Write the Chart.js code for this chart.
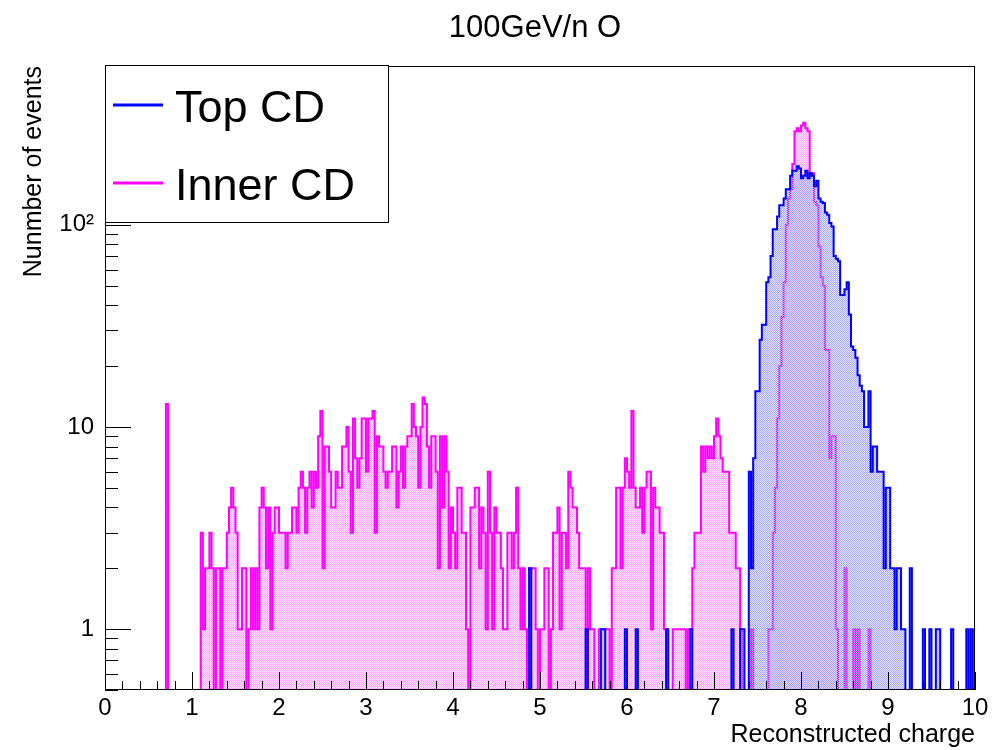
<!DOCTYPE html>
<html>
<head>
<meta charset="utf-8">
<title>100GeV/n O</title>
<script src="https://cdn.jsdelivr.net/npm/chart.js@4.4.1/dist/chart.umd.min.js"></script>
<style>
  html, body { margin: 0; padding: 0; background: #fff; }
  #wrap { width: 998px; height: 750px; position: relative; }
</style>
</head>
<body>
<div id="wrap"><canvas id="mycanvas"></canvas></div>
<script>
// histogram binning: 400 bins of 0.025 between 0 and 10
var xMin = 0;
var xMax = 10;
var binWidth = 0.025;
var yMin = 0.5;
var yMax = 610;

var seriesNames = ["Top CD", "Inner CD"];
var seriesColors = ["#0000ff", "#ff00ff"];
// hatch colours: solid dot, see-through dot
var seriesHatch = [["#a9a9ff", "rgba(0,0,255,0.1)"], ["#ffa9ff", "rgba(255,0,255,0.1)"]];

var xTickLabels = [0, 1, 2, 3, 4, 5, 6, 7, 8, 9, 10];
var yTickValues = [1, 10, 100];
var yTickLabels = ["1", "10", "10\u00b2"];

// counts per bin, 20 bins (0.5 in charge) per row
var topCD = [
  0,0,0,0,0,0,0,0,0,0,0,0,0,0,0,0,0,0,0,0,
  0,0,0,0,0,0,0,0,0,0,0,0,0,0,0,0,0,0,0,0,
  0,0,0,0,0,0,0,0,0,0,0,0,0,0,0,0,0,0,0,0,
  0,0,0,0,0,0,0,0,0,0,0,0,0,0,0,0,0,0,0,0,
  0,0,0,0,0,0,0,0,0,0,0,0,0,0,0,0,0,0,0,0,
  0,0,0,0,0,0,0,0,0,0,0,0,0,0,0,0,0,0,0,0,
  0,0,0,0,0,0,0,0,0,0,0,0,0,0,0,0,0,0,0,0,
  0,0,0,0,0,0,0,0,0,0,0,0,0,0,0,0,0,0,0,0,
  0,0,0,0,0,0,0,0,0,0,0,0,0,0,0,0,0,0,0,0,
  0,0,0,0,0,0,0,0,0,0,0,0,0,0,0,2,0,0,0,0,
  0,0,0,0,0,0,0,0,0,0,0,0,0,0,0,0,0,0,0,0,
  0,1,0,0,0,0,0,0,1,1,0,0,0,0,0,0,0,0,0,1,
  0,0,0,0,1,0,0,0,0,0,0,0,0,0,0,0,0,0,1,0,
  0,0,0,0,0,0,0,0,0,1,0,0,0,0,0,0,0,0,0,0,
  0,0,0,0,0,0,0,0,1,0,0,0,1,1,0,0,6,2,7,15,
  15,27,32,32,52,55,70,95,95,110,125,125,135,150,150,175,185,185,195,190,
  170,175,185,170,180,175,155,165,135,130,128,115,112,102,98,70,68,66,45,45,
  48,52,36,25,24,22,18,16,15,10,10,15,6,8,8,6,6,6,2,5,
  5,2,2,1,2,2,1,1,0,0,2,0,0,0,0,0,1,0,0,1,
  0,0,1,1,0,0,0,0,0,1,0,0,0,0,0,0,1,0,1,0
];

var innerCD = [
  0,0,0,0,0,0,0,0,0,0,0,0,0,0,0,0,0,0,0,0,
  0,0,0,0,0,0,0,0,13,0,0,0,0,0,0,0,0,0,0,0,
  0,0,0,0,3,1,2,2,3,2,0,2,2,0,2,2,3,4,5,4,
  3,1,1,2,2,0,1,2,1,2,1,4,5,4,2,4,1,3,4,4,
  3,3,3,2,3,3,4,4,3,5,6,5,3,5,6,4,6,5,9,12,
  2,8,8,6,4,4,6,5,5,8,8,10,6,3,11,7,5,7,11,11,
  6,11,11,12,3,9,8,8,6,5,6,6,8,8,4,6,8,5,8,9,
  9,13,10,9,5,10,14,13,8,5,9,9,6,2,9,4,9,6,2,4,
  3,2,5,5,3,3,1,0,4,4,5,5,2,4,3,1,6,3,1,4,
  3,3,2,1,1,3,3,2,3,5,2,1,2,1,0,2,2,2,1,0,
  1,1,2,2,0,1,3,3,4,1,3,3,2,6,5,4,4,3,2,2,
  2,0,2,1,1,0,0,1,1,1,1,1,0,2,2,5,5,2,5,7,
  6,5,12,5,4,4,5,3,5,6,6,1,5,4,4,3,3,1,0,0,
  0,1,1,1,1,1,1,0,1,1,2,3,3,3,8,6,8,7,8,7,
  9,11,9,7,6,6,6,3,3,3,2,2,1,0,0,0,0,1,0,0,
  0,0,0,0,0,1,1,3,5,11,20,35,52,100,135,150,200,290,300,290,
  310,320,300,290,175,180,130,125,78,55,50,24,24,7,9,9,1,0,0,0,
  2,0,0,0,1,0,1,0,0,0,0,1,0,0,0,0,0,0,0,0,
  0,0,0,0,0,0,0,0,0,0,0,0,0,0,0,0,0,0,0,0,
  0,0,0,0,0,0,0,0,0,0,0,0,0,0,0,0,0,0,0,0
];

var FONT = "'Liberation Sans', Arial, Helvetica, sans-serif";

// hatched fill on a 2x2 checker: the solid dots of a later histogram
// cover the earlier one where they overlap
function hatchPattern(colors) {
  var c = document.createElement('canvas');
  c.width = 2;
  c.height = 2;
  var g = c.getContext('2d');
  g.fillStyle = colors[0];
  g.fillRect(0, 0, 1, 1);
  g.fillRect(1, 1, 1, 1);
  g.fillStyle = colors[1];
  g.fillRect(1, 0, 1, 1);
  g.fillRect(0, 1, 1, 1);
  return g.createPattern(c, 'repeat');
}

// turn bin counts into a step outline; empty bins sit on the axis floor
function stepPoints(counts) {
  var pts = [];
  for (var k = 0; k < counts.length; k++) {
    var y = counts[k] > 0 ? counts[k] : yMin;
    pts.push({ x: xMin + k * binWidth, y: y });
    pts.push({ x: xMin + (k + 1) * binWidth, y: y });
  }
  return pts;
}

function histDataset(i, counts) {
  return {
    label: seriesNames[i],
    data: stepPoints(counts),
    borderColor: seriesColors[i],
    backgroundColor: hatchPattern(seriesHatch[i]),
    borderWidth: 2,
    fill: 'start',
    pointRadius: 0,
    tension: 0,
    borderJoinStyle: 'miter'
  };
}

// frame, inward tick marks, legend box and titles
var rootStyle = {
  id: 'rootStyle',
  afterDraw: function(chart) {
    var ctx = chart.ctx;
    var a = chart.chartArea;
    var xs = chart.scales.x, ys = chart.scales.y;
    ctx.save();

    ctx.strokeStyle = '#000';
    ctx.lineWidth = 1;
    ctx.strokeRect(a.left + 0.5, a.top + 0.5, a.right - a.left - 1, a.bottom - a.top - 1);

    ctx.beginPath();
    for (var i = 0; i <= 50; i++) {
      var px = Math.round(xs.getPixelForValue(xMin + i * 0.2)) + 0.5;
      var len = (i % 5 === 0) ? 18 : 9;
      ctx.moveTo(px, a.bottom);
      ctx.lineTo(px, a.bottom - len);
    }
    [0.1, 1, 10, 100].forEach(function(d) {
      for (var m = 1; m <= 9; m++) {
        var v = m * d;
        if (v < yMin || v > yMax) continue;
        var py = Math.round(ys.getPixelForValue(v)) + 0.5;
        ctx.moveTo(a.left, py);
        ctx.lineTo(a.left + (m === 1 ? 26 : 13), py);
      }
    });
    ctx.stroke();

    // legend
    var lx = 105, ly = 65, lw = 283, lh = 157;
    ctx.fillStyle = '#fff';
    ctx.fillRect(lx, ly, lw, lh);
    ctx.strokeRect(lx + 0.5, ly + 0.5, lw, lh);
    var rows = [105, 183];
    var bases = [122, 200];
    for (var s = 0; s < seriesNames.length; s++) {
      ctx.strokeStyle = seriesColors[s];
      ctx.lineWidth = 3;
      ctx.beginPath();
      ctx.moveTo(113, rows[s]);
      ctx.lineTo(163, rows[s]);
      ctx.stroke();
      ctx.fillStyle = '#000';
      ctx.font = '45px ' + FONT;
      ctx.textAlign = 'left';
      ctx.textBaseline = 'alphabetic';
      ctx.fillText(seriesNames[s], 175, bases[s]);
    }

    // titles
    ctx.fillStyle = '#000';
    ctx.font = '31px ' + FONT;
    ctx.textAlign = 'center';
    ctx.fillText('100GeV/n O', 535, 37);

    ctx.font = '25px ' + FONT;
    ctx.textAlign = 'right';
    ctx.fillText('Reconstructed charge', a.right, 742);

    ctx.translate(41, a.top);
    ctx.rotate(-Math.PI / 2);
    ctx.textAlign = 'right';
    ctx.fillText('Nunmber of events', 0, 0);
    ctx.restore();
  }
};

var ctx = document.getElementById("mycanvas").getContext("2d");
var histChart = new Chart(ctx, {
  type: 'line',
  data: {
    datasets: [histDataset(0, topCD), histDataset(1, innerCD)]
  },
  options: {
    responsive: true,
    maintainAspectRatio: false,
    animation: false,
    devicePixelRatio: 1,
    layout: { padding: { top: 66, right: 23, left: 0, bottom: 0 } },
    plugins: {
      legend: { display: false },
      title: { display: false },
      tooltip: { enabled: false }
    },
    scales: {
      x: {
        type: 'linear',
        min: xMin,
        max: xMax,
        afterFit: function(scale) { scale.height = 60; },
        afterBuildTicks: function(scale) {
          scale.ticks = xTickLabels.map(function(v) { return { value: v }; });
        },
        grid: { display: false, drawTicks: false },
        border: { display: false },
        ticks: {
          autoSkip: false,
          maxRotation: 0,
          padding: 4,
          color: '#000',
          font: { family: FONT, size: 24 }
        }
      },
      y: {
        type: 'logarithmic',
        min: yMin,
        max: yMax,
        afterFit: function(scale) { scale.width = 105; },
        afterBuildTicks: function(scale) {
          scale.ticks = yTickValues.map(function(v) { return { value: v }; });
        },
        grid: { display: false, drawTicks: false },
        border: { display: false },
        ticks: {
          padding: 11,
          color: '#000',
          font: { family: FONT, size: 24 },
          callback: function(v) {
            var i = yTickValues.indexOf(v);
            return i >= 0 ? yTickLabels[i] : '';
          }
        }
      }
    }
  },
  plugins: [rootStyle]
});
</script>
</body>
</html>
